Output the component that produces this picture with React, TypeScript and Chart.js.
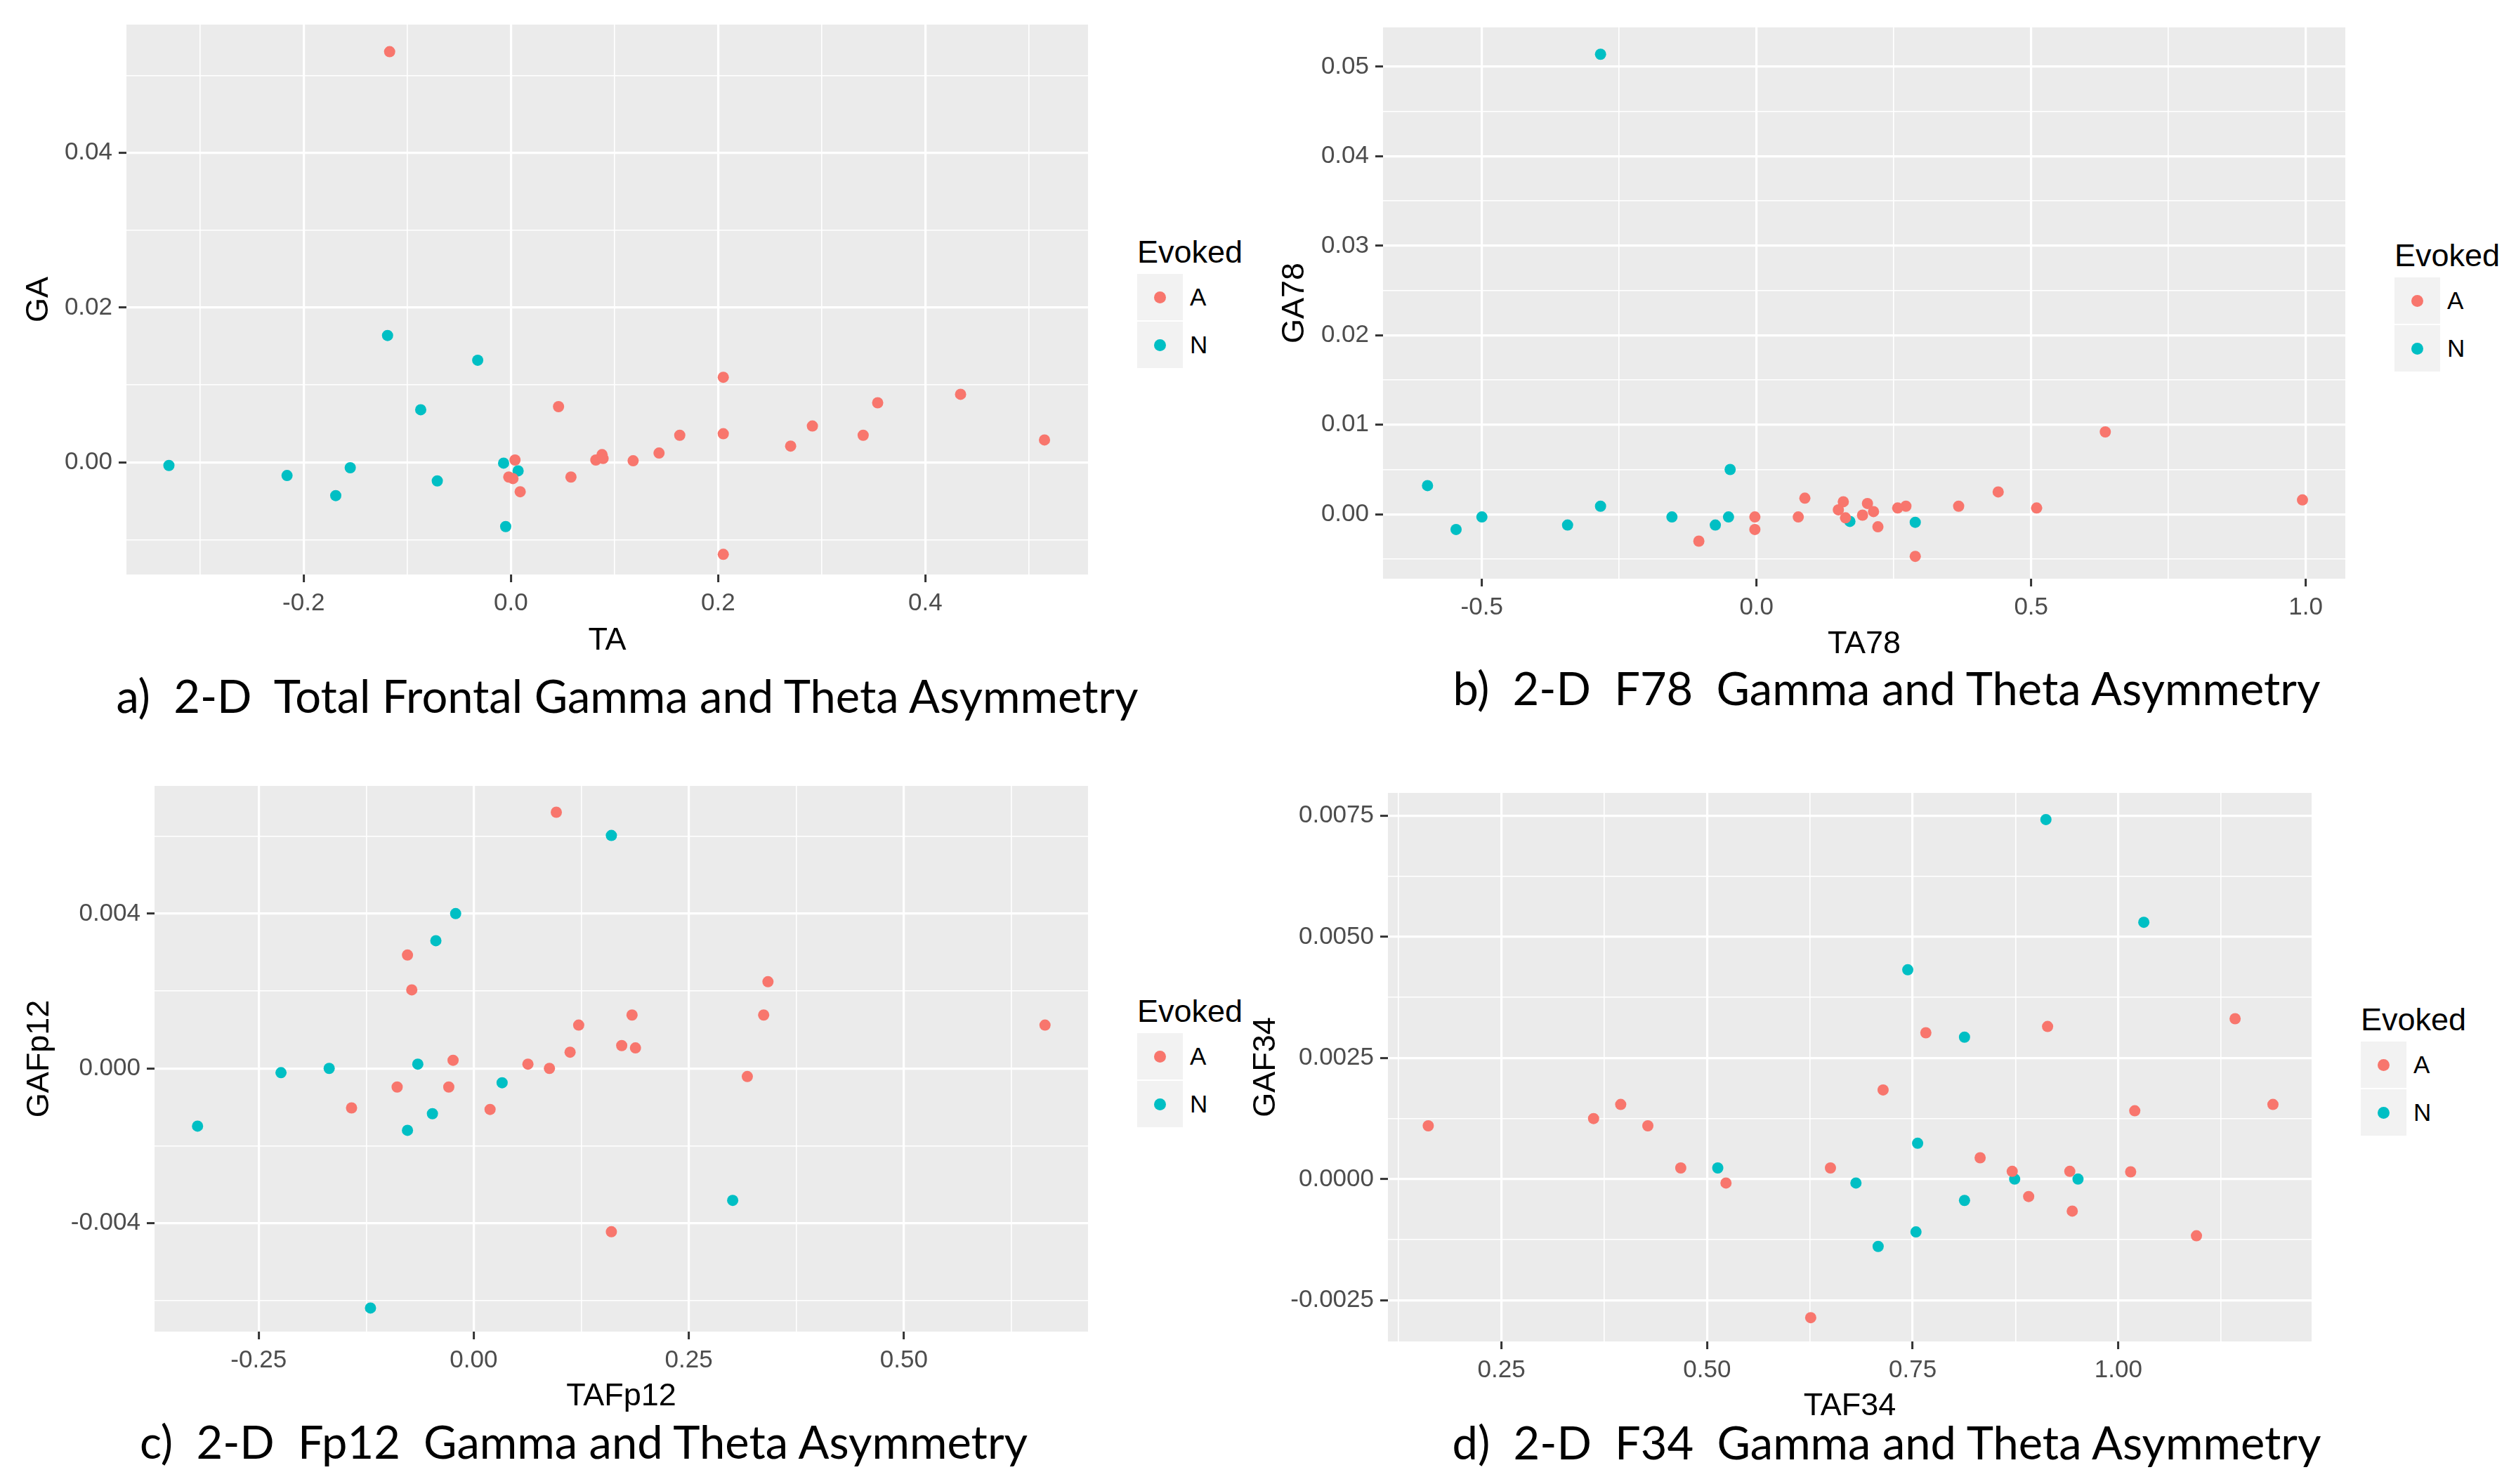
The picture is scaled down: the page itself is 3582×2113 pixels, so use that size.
import React, { useEffect, useRef } from 'react';
import { Chart, registerables, type ChartConfiguration } from 'chart.js';

Chart.register(...registerables);

const RED = '#F8766D';
const CYAN = '#00BFC4';
const FONT = "'Liberation Sans', Arial, sans-serif";

// a) Total frontal
const aTA_A = [-0.117, 0.046, 0.205, 0.434, 0.354, 0.291, 0.163, 0.205, 0.34, 0.515, 0.27, 0.143, 0.118, 0.088, 0.082, 0.089, 0.004, -0.002, 0.002, 0.058, 0.009, 0.205];
const aGA_A = [0.0531, 0.0072, 0.011, 0.0088, 0.0077, 0.0047, 0.0035, 0.0037, 0.0035, 0.0029, 0.0021, 0.0012, 0.0002, 0.001, 0.0003, 0.0005, 0.0003, -0.0019, -0.0021, -0.0019, -0.0038, -0.0119];
const aTA_N = [-0.119, -0.032, -0.087, -0.33, -0.216, -0.155, -0.169, -0.071, -0.007, 0.007, -0.005];
const aGA_N = [0.0164, 0.0132, 0.0068, -0.0004, -0.0017, -0.0007, -0.0043, -0.0024, -0.0001, -0.0011, -0.0083];
const aXTicks = [-0.2, 0, 0.2, 0.4];
const aXLabels = ['-0.2', '0.0', '0.2', '0.4'];
const aXMinor = [-0.3, -0.1, 0.1, 0.3, 0.5];
const aYTicks = [0, 0.02, 0.04];
const aYLabels = ['0.00', '0.02', '0.04'];
const aYMinor = [-0.01, 0.01, 0.03, 0.05];

// b) F78
const bTA_A = [0.635, 0.994, 0.44, 0.51, 0.368, 0.272, 0.257, 0.202, 0.213, 0.193, 0.221, 0.158, 0.149, 0.162, 0.088, 0.076, -0.003, -0.003, -0.105, 0.289];
const bGA_A = [0.0092, 0.0016, 0.0025, 0.0007, 0.0009, 0.0009, 0.0007, 0.0012, 0.0003, -0.0001, -0.0014, 0.0014, 0.0005, -0.0004, 0.0018, -0.0003, -0.0003, -0.0017, -0.003, -0.0047];
const bTA_N = [-0.284, -0.599, -0.547, -0.5, -0.344, -0.284, -0.154, -0.048, -0.075, -0.051, 0.17, 0.289];
const bGA_N = [0.0514, 0.0032, -0.0017, -0.0003, -0.0012, 0.0009, -0.0003, 0.005, -0.0012, -0.0003, -0.0008, -0.0009];
const bXTicks = [-0.5, 0, 0.5, 1];
const bXLabels = ['-0.5', '0.0', '0.5', '1.0'];
const bXMinor = [-0.25, 0.25, 0.75];
const bYTicks = [0, 0.01, 0.02, 0.03, 0.04, 0.05];
const bYLabels = ['0.00', '0.01', '0.02', '0.03', '0.04', '0.05'];
const bYMinor = [-0.005, 0.005, 0.015, 0.025, 0.035, 0.045];

// c) Fp12
const cTA_A = [0.096, -0.077, -0.072, 0.342, 0.337, 0.184, 0.122, 0.664, 0.172, 0.188, 0.112, 0.063, -0.024, 0.088, 0.318, -0.089, -0.029, -0.142, 0.019, 0.16];
const cGA_A = [0.00662, 0.00293, 0.00203, 0.00224, 0.00138, 0.00138, 0.00112, 0.00112, 0.00059, 0.00053, 0.00042, 0.00011, 0.00021, 0.0, -0.00021, -0.00048, -0.00048, -0.00102, -0.00106, -0.00422];
const cTA_N = [0.16, -0.021, -0.044, -0.065, -0.168, -0.224, 0.033, -0.048, -0.077, -0.321, 0.301, -0.12];
const cGA_N = [0.00602, 0.004, 0.0033, 0.00011, 0.0, -0.00011, -0.00037, -0.00117, -0.0016, -0.00149, -0.00341, -0.00619];
const cXTicks = [-0.25, 0, 0.25, 0.5];
const cXLabels = ['-0.25', '0.00', '0.25', '0.50'];
const cXMinor = [-0.125, 0.125, 0.375, 0.625];
const cYTicks = [-0.004, 0, 0.004];
const cYLabels = ['-0.004', '0.000', '0.004'];
const cYMinor = [-0.006, -0.002, 0.002, 0.006];

// d) F34
const dTA_A = [0.161, 0.362, 0.395, 0.428, 0.468, 0.523, 0.65, 0.714, 0.766, 0.914, 1.142, 1.188, 1.02, 0.832, 0.871, 0.941, 1.015, 0.891, 0.944, 1.095, 0.626];
const dGA_A = [0.0011, 0.00125, 0.00154, 0.0011, 0.00023, -0.00008, 0.00023, 0.00184, 0.00302, 0.00315, 0.00331, 0.00154, 0.00141, 0.00044, 0.00016, 0.00016, 0.00015, -0.00036, -0.00066, -0.00117, -0.00286];
const dTA_N = [0.912, 1.031, 0.744, 0.813, 0.756, 0.513, 0.681, 0.874, 0.951, 0.813, 0.754, 0.708];
const dGA_N = [0.00742, 0.0053, 0.00432, 0.00293, 0.00074, 0.00023, -0.00008, 0.0, 0.0, -0.00044, -0.00109, -0.00139];
const dXTicks = [0.25, 0.5, 0.75, 1];
const dXLabels = ['0.25', '0.50', '0.75', '1.00'];
const dXMinor = [0.125, 0.375, 0.625, 0.875, 1.125];
const dYTicks = [-0.0025, 0, 0.0025, 0.005, 0.0075];
const dYLabels = ['-0.0025', '0.0000', '0.0025', '0.0050', '0.0075'];
const dYMinor = [-0.00125, 0.00125, 0.00375, 0.00625];

const panelBg = {
  id: 'panelBg',
  beforeDraw(chart: Chart) {
    const { ctx, chartArea } = chart;
    ctx.save();
    ctx.fillStyle = '#EBEBEB';
    ctx.fillRect(chartArea.left, chartArea.top, chartArea.width, chartArea.height);
    ctx.restore();
  },
};

interface PanelProps {
  xA: number[];
  yA: number[];
  xN: number[];
  yN: number[];
  xRange: [number, number];
  yRange: [number, number];
  xTicks: number[];
  xLabels: string[];
  xMinor: number[];
  yTicks: number[];
  yLabels: string[];
  yMinor: number[];
  xTitle: string;
  yTitle: string;
  plot: [number, number, number, number]; // left, top, right, bottom
  yTitleX: number;
  xTitleY: number;
  caption: string;
  captionX: number;
  captionY: number;
}

const isIn = (arr: number[], v: number) => arr.findIndex((m) => Math.abs(m - v) < 1e-9);

function axis(
  ticks: number[],
  labels: string[],
  minor: number[],
  range: [number, number],
  title: string,
  size: { w?: number; h?: number }
) {
  return {
    type: 'linear' as const,
    min: range[0],
    max: range[1],
    afterBuildTicks: (scale: any) => {
      scale.ticks = [...minor, ...ticks].sort((p, q) => p - q).map((value) => ({ value }));
    },
    afterFit: (scale: any) => {
      // fixed box sizes so the panel sits exactly where the ggplot panel is
      if (size.w !== undefined) scale.width = size.w;
      if (size.h !== undefined) scale.height = size.h;
      scale.paddingTop = 0;
      scale.paddingBottom = 0;
      scale.paddingLeft = 0;
      scale.paddingRight = 0;
    },
    ticks: {
      autoSkip: false,
      maxRotation: 0,
      minRotation: 0,
      padding: 9,
      color: '#4D4D4D',
      font: { size: 35, family: FONT },
      callback: (v: any) => {
        const i = isIn(ticks, Number(v));
        return i >= 0 ? labels[i] : '';
      },
    },
    grid: {
      color: '#FFFFFF',
      lineWidth: (c: any) => (isIn(ticks, c.tick?.value) >= 0 ? 3.2 : 1.6),
      tickColor: (c: any) => (isIn(ticks, c.tick?.value) >= 0 ? '#333333' : 'rgba(0,0,0,0)'),
      tickLength: 11,
      tickWidth: 3,
      drawTicks: true,
    },
    border: { display: false },
    title: {
      display: true,
      text: title,
      color: '#000000',
      padding: 0,
      font: { size: 45, family: FONT },
    },
  };
}

const ScatterPanel: React.FC<PanelProps> = (p) => {
  const canvasRef = useRef<HTMLCanvasElement | null>(null);
  const [pl, pt, pr, pb] = p.plot;
  const left = p.yTitleX - 27;
  const top = pt - 10;
  const width = pr + 10 - left;
  const height = p.xTitleY + 27 - top;
  const yW = pl - left;
  const xH = p.xTitleY + 27 - pb;

  useEffect(() => {
    if (!canvasRef.current) return;
    const config: ChartConfiguration<'scatter'> = {
      type: 'scatter',
      data: {
        datasets: [
          {
            label: 'A',
            data: p.xA.map((x, i) => ({ x, y: p.yA[i] })),
            backgroundColor: RED,
            borderWidth: 0,
            pointRadius: 8,
          },
          {
            label: 'N',
            data: p.xN.map((x, i) => ({ x, y: p.yN[i] })),
            backgroundColor: CYAN,
            borderWidth: 0,
            pointRadius: 8,
          },
        ],
      },
      options: {
        responsive: false,
        animation: false,
        devicePixelRatio: 1,
        clip: false,
        layout: { padding: { top: 10, right: 10, left: 0, bottom: 0 } },
        plugins: { legend: { display: false }, tooltip: { enabled: false } },
        scales: {
          x: axis(p.xTicks, p.xLabels, p.xMinor, p.xRange, p.xTitle, { h: xH }) as any,
          y: axis(p.yTicks, p.yLabels, p.yMinor, p.yRange, p.yTitle, { w: yW }) as any,
        },
      },
      plugins: [panelBg],
    };
    const chart = new Chart(canvasRef.current, config);
    return () => chart.destroy();
  }, [p, xH, yW]);

  const legendLeft = pr + 70;
  const midY = (pt + pb) / 2;
  const keyTop = midY - 37;
  const key = (color: string, label: string, y: number) => (
    <div key={label}>
      <div
        style={{
          position: 'absolute',
          left: legendLeft,
          top: y,
          width: 65,
          height: 66,
          background: '#F2F2F2',
        }}
      >
        <div
          style={{
            position: 'absolute',
            left: 24,
            top: 25,
            width: 17,
            height: 17,
            borderRadius: '50%',
            background: color,
          }}
        />
      </div>
      <div
        style={{
          position: 'absolute',
          left: legendLeft + 75,
          top: y + 33 - 20,
          font: `35px ${FONT}`,
          lineHeight: '40px',
          color: '#000',
        }}
      >
        {label}
      </div>
    </div>
  );

  return (
    <>
      <div style={{ position: 'absolute', left, top, width, height }}>
        <canvas ref={canvasRef} width={width} height={height} />
      </div>
      <div
        style={{
          position: 'absolute',
          left: legendLeft,
          top: midY - 68 - 26,
          font: `45px ${FONT}`,
          lineHeight: '52px',
          color: '#000',
        }}
      >
        Evoked
      </div>
      {key(RED, 'A', keyTop)}
      {key(CYAN, 'N', keyTop + 68)}
      <div
        style={{
          position: 'absolute',
          left: p.captionX - 1000,
          width: 2000,
          top: p.captionY - 39,
          textAlign: 'center',
          whiteSpace: 'pre',
          font: `65px Lato, 'Open Sans', sans-serif`,
          lineHeight: '78px',
          color: '#000',
        }}
      >
        {p.caption}
      </div>
    </>
  );
};

const panels: PanelProps[] = [
  {
    xA: aTA_A, yA: aGA_A, xN: aTA_N, yN: aGA_N,
    xRange: [-0.371, 0.557], yRange: [-0.0145, 0.0566],
    xTicks: aXTicks, xLabels: aXLabels, xMinor: aXMinor,
    yTicks: aYTicks, yLabels: aYLabels, yMinor: aYMinor,
    xTitle: 'TA', yTitle: 'GA',
    plot: [180, 35, 1549, 818], yTitleX: 56, xTitleY: 913,
    caption: 'a)  2-D  Total Frontal Gamma and Theta Asymmetry', captionX: 893, captionY: 990,
  },
  {
    xA: bTA_A, yA: bGA_A, xN: bTA_N, yN: bGA_N,
    xRange: [-0.68, 1.072], yRange: [-0.0072, 0.0544],
    xTicks: bXTicks, xLabels: bXLabels, xMinor: bXMinor,
    yTicks: bYTicks, yLabels: bYLabels, yMinor: bYMinor,
    xTitle: 'TA78', yTitle: 'GA78',
    plot: [1969, 39, 3339, 824], yTitleX: 1844, xTitleY: 918,
    caption: 'b)  2-D  F78  Gamma and Theta Asymmetry', captionX: 2686, captionY: 979,
  },
  {
    xA: cTA_A, yA: cGA_A, xN: cTA_N, yN: cGA_N,
    xRange: [-0.371, 0.714], yRange: [-0.0068, 0.0073],
    xTicks: cXTicks, xLabels: cXLabels, xMinor: cXMinor,
    yTicks: cYTicks, yLabels: cYLabels, yMinor: cYMinor,
    xTitle: 'TAFp12', yTitle: 'GAFp12',
    plot: [220, 1119, 1549, 1896], yTitleX: 57, xTitleY: 1989,
    caption: 'c)  2-D  Fp12  Gamma and Theta Asymmetry', captionX: 831, captionY: 2052,
  },
  {
    xA: dTA_A, yA: dGA_A, xN: dTA_N, yN: dGA_N,
    xRange: [0.112, 1.235], yRange: [-0.00335, 0.00797],
    xTicks: dXTicks, xLabels: dXLabels, xMinor: dXMinor,
    yTicks: dYTicks, yLabels: dYLabels, yMinor: dYMinor,
    xTitle: 'TAF34', yTitle: 'GAF34',
    plot: [1976, 1129, 3291, 1910], yTitleX: 1803, xTitleY: 2003,
    caption: 'd)  2-D  F34  Gamma and Theta Asymmetry', captionX: 2686, captionY: 2053,
  },
];

export default function App() {
  return (
    <div
      style={{
        position: 'absolute',
        left: 0,
        top: 0,
        width: 3582,
        height: 2113,
        background: '#FFFFFF',
        overflow: 'hidden',
      }}
    >
      {panels.map((p) => (
        <ScatterPanel key={p.yTitle} {...p} />
      ))}
    </div>
  );
}
